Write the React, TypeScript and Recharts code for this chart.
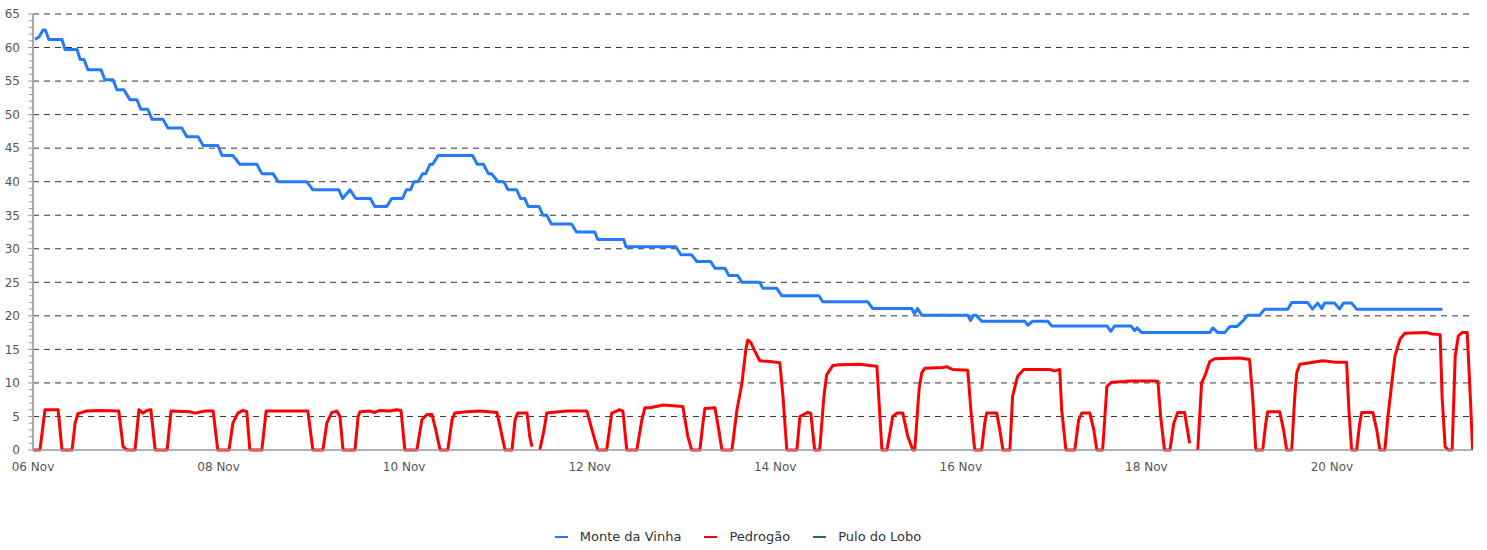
import { LineChart, Line, XAxis, YAxis, CartesianGrid, Legend } from 'recharts';

type Pt = [number, number | null];

// t = horas desde 06 Nov 00:00, v = valor
const monteDaVinha: Pt[] = [
  [0.5, 61.2], [1.6, 61.6], [2.6, 62.6], [3.2, 62.6], [4.1, 61.2], [7.5, 61.2], [8.3, 59.7], [11.4, 59.7],
  [12.2, 58.2], [13.2, 58.2], [14.2, 56.7], [17.6, 56.7], [18.6, 55.2], [20.7, 55.2], [21.7, 53.7], [23.5, 53.7],
  [25.1, 52.2], [26.9, 52.2], [27.9, 50.8], [29.7, 50.8], [30.8, 49.3], [33.6, 49.3], [34.9, 48.0], [38.5, 48.0],
  [39.8, 46.7], [42.7, 46.7], [44.0, 45.4], [47.8, 45.4], [48.9, 43.9], [51.7, 43.9], [53.5, 42.6], [57.9, 42.6],
  [59.2, 41.2], [62.1, 41.2], [63.4, 40.0], [70.8, 40.0], [72.4, 38.8], [79.1, 38.8], [80.1, 37.5], [82.0, 38.8],
  [83.5, 37.5], [87.3, 37.5], [88.4, 36.3], [91.5, 36.3], [92.8, 37.5], [95.6, 37.5], [96.6, 38.8], [97.7, 38.8],
  [98.5, 40.0], [99.6, 40.0], [100.8, 41.2], [101.6, 41.2], [102.7, 42.6], [103.4, 42.6], [104.8, 43.9], [113.7, 43.9],
  [114.9, 42.6], [116.5, 42.6], [117.8, 41.2], [118.6, 41.2], [120.3, 40.0], [121.8, 40.0], [122.9, 38.8], [125.1, 38.8],
  [126.1, 37.5], [127.2, 37.5], [128.1, 36.3], [130.9, 36.3], [131.9, 35.0], [132.9, 35.0], [134.1, 33.7], [139.3, 33.7],
  [140.6, 32.5], [145.3, 32.5], [146.1, 31.4], [152.8, 31.4], [153.4, 30.3], [166.3, 30.3], [167.6, 29.1], [170.4, 29.1],
  [171.7, 28.1], [175.3, 28.1], [176.4, 27.1], [179.0, 27.1], [180.0, 26.0], [182.3, 26.0], [183.4, 25.0], [188.0, 25.0],
  [188.8, 24.1], [192.4, 24.1], [193.7, 23.0], [203.3, 23.0], [204.3, 22.1], [215.9, 22.1], [217.2, 21.1], [227.3, 21.1],
  [228.0, 20.3], [228.8, 21.1], [229.9, 20.1], [241.8, 20.1], [242.5, 19.3], [243.3, 20.1], [244.0, 20.1], [245.4, 19.2],
  [256.6, 19.2], [257.3, 18.6], [258.6, 19.2], [262.5, 19.2], [263.5, 18.5], [277.8, 18.5], [278.8, 17.7], [279.8, 18.5],
  [284.0, 18.5], [285.0, 17.8], [285.6, 18.2], [286.8, 17.5], [304.4, 17.5], [305.2, 18.2], [306.5, 17.5], [308.3, 17.5],
  [309.6, 18.4], [311.4, 18.4], [312.9, 19.2], [314.2, 20.1], [317.3, 20.1], [318.6, 21.0], [324.6, 21.0], [325.6, 22.0],
  [329.7, 22.0], [331.0, 21.0], [332.3, 21.9], [333.4, 21.1], [334.1, 21.9], [336.7, 21.9], [338.0, 21.0], [339.0, 21.9],
  [341.1, 21.9], [342.4, 21.0], [364.6, 21.0],
];

const pedrogao: Pt[] = [
  [0, 0], [1.8, 0], [3.1, 6.0], [6.5, 6.0], [7.5, 0], [10.1, 0], [10.9, 4.0], [11.6, 5.4], [12.7, 5.6], [13.7, 5.8],
  [17.3, 5.9], [22.2, 5.8], [23.3, 0.5], [24.3, 0], [26.4, 0], [27.4, 6.0], [28.4, 5.5], [29.5, 5.9], [30.5, 6.0],
  [31.6, 0], [34.7, 0], [35.7, 5.8], [40.6, 5.7], [41.9, 5.5], [44.5, 5.8], [46.6, 5.8], [47.8, 0], [50.7, 0],
  [51.7, 4.0], [53.0, 5.5], [54.3, 5.9], [55.3, 5.7], [56.1, 0], [59.2, 0], [60.3, 5.8], [71.1, 5.8], [72.4, 0],
  [75.0, 0], [76.0, 4.0], [77.3, 5.6], [78.6, 5.8], [79.4, 5.0], [80.2, 0], [83.3, 0], [84.1, 5.0], [84.6, 5.7],
  [87.2, 5.8], [88.4, 5.6], [89.7, 5.9], [92.3, 5.8], [94.1, 6.0], [95.2, 5.9], [96.2, 0], [99.3, 0], [100.6, 4.5],
  [101.9, 5.3], [103.2, 5.3], [104.2, 3.0], [105.3, 0], [107.3, 0], [108.4, 4.5], [109.1, 5.5], [112.2, 5.7],
  [115.6, 5.8], [120.0, 5.6], [121.0, 3.0], [122.1, 0], [123.9, 0], [124.7, 4.5], [125.4, 5.5], [127.8, 5.5],
  [128.5, 2.0], [129.1, 0.5], [130.0, null], [131.1, 0], [132.2, 3.0], [132.9, 5.5], [138.1, 5.8], [143.3, 5.8],
  [144.6, 3.0], [146.1, 0], [148.4, 0], [149.7, 5.5], [151.8, 6.0], [152.6, 5.8], [153.6, 0], [156.2, 0],
  [157.5, 4.5], [158.3, 6.3], [159.6, 6.3], [163.0, 6.7], [168.1, 6.5], [169.4, 2.0], [170.4, 0], [172.5, 0],
  [173.3, 4.0], [173.8, 6.2], [176.4, 6.3], [177.4, 3.0], [178.2, 0], [180.8, 0], [182.1, 6.0], [183.4, 10.0],
  [184.4, 15.0], [184.9, 16.4], [185.7, 16.0], [186.5, 15.0], [188.0, 13.3], [190.6, 13.2], [193.2, 13.0],
  [194.0, 8.0], [195.0, 0], [197.6, 0], [198.4, 5.0], [200.4, 5.6], [201.2, 5.5], [202.2, 0], [203.5, 0],
  [204.6, 8.0], [205.3, 11.2], [206.9, 12.6], [208.7, 12.7], [213.9, 12.8], [216.5, 12.6], [218.3, 12.5],
  [219.6, 0], [220.9, 0], [222.4, 5.0], [223.5, 5.5], [225.0, 5.5], [226.3, 2.0], [227.6, 0], [228.1, 0],
  [229.2, 9.0], [229.9, 11.5], [230.7, 12.2], [235.3, 12.3], [236.4, 12.4], [237.9, 12.0], [241.8, 11.9],
  [242.6, 6.0], [243.6, 0], [245.4, 0], [246.2, 4.0], [246.7, 5.5], [249.3, 5.5], [250.1, 3.0], [250.9, 0],
  [252.7, 0], [253.4, 8.0], [254.7, 11.0], [256.3, 12.0], [263.0, 12.0], [264.3, 11.8], [265.6, 12.0], [266.1, 6.0],
  [267.2, 0], [269.5, 0], [270.5, 4.5], [271.3, 5.5], [273.4, 5.5], [274.4, 3.0], [275.2, 0], [276.7, 0],
  [277.8, 9.5], [279.0, 10.1], [282.4, 10.2], [283.7, 10.3], [290.2, 10.3], [291.0, 10.2], [291.7, 5.0], [292.7, 0],
  [294.1, 0], [295.1, 4.0], [296.1, 5.6], [297.9, 5.6], [299.2, 1.0], [300.5, null], [301.3, 0], [302.3, 10.0],
  [303.1, 11.0], [304.4, 13.2], [305.7, 13.6], [312.1, 13.7], [314.7, 13.5], [315.5, 8.0], [316.3, 0], [318.1, 0],
  [318.9, 4.0], [319.4, 5.7], [322.5, 5.7], [323.5, 3.0], [324.3, 0], [325.6, 0], [326.4, 8.0], [326.9, 11.5],
  [327.7, 12.8], [330.3, 13.0], [333.6, 13.3], [336.7, 13.1], [339.8, 13.1], [340.4, 6.0], [341.1, 0], [342.4, 0],
  [343.2, 4.0], [343.7, 5.6], [346.6, 5.6], [347.6, 3.0], [348.4, 0], [349.7, 0], [350.5, 5.0], [351.5, 10.0],
  [352.3, 14.0], [353.6, 16.5], [354.9, 17.4], [360.6, 17.5], [361.9, 17.3], [364.0, 17.2], [364.5, 8.0],
  [365.3, 0.5], [366.1, 0], [367.1, 0], [367.9, 14.0], [368.7, 17.0], [369.7, 17.5], [371.0, 17.5], [371.8, 8.0],
  [372.4, 0],
];

const puloDoLobo: Pt[] = [];

const xTicks = [0, 48, 96, 144, 192, 240, 288, 336];
const yTicks = Array.from({ length: 66 }, (_, i) => i);
const yGrid = [5, 10, 15, 20, 25, 30, 35, 40, 45, 50, 55, 60, 65];

const toRows = (pts: Pt[]) => pts.map(([t, v]) => ({ t, v }));

const series = [
  { name: 'Monte da Vinha', color: '#2379ff', data: toRows(monteDaVinha) },
  { name: 'Pedrogão', color: '#ff0000', data: toRows(pedrogao) },
  { name: 'Pulo do Lobo', color: '#1b7a43', data: toRows(puloDoLobo) },
];

const FONT = '"DejaVu Sans", sans-serif';

const fmtDay = (h: number) => `${String(6 + Math.round(h / 24)).padStart(2, '0')} Nov`;

const YTick = (props: any) => {
  const { x, y, payload } = props;
  const v = payload.value;
  const major = v % 5 === 0;
  return (
    <g>
      <line x1={x - (major ? 5 : 4)} x2={x} y1={y} y2={y} stroke="#999" strokeWidth={1} />
      {major && (
        <text x={x - 13} y={y} dy="0.36em" textAnchor="end" fontSize={12} fill="#555" fontFamily={FONT}>
          {v}
        </text>
      )}
    </g>
  );
};

const LegendContent = () => (
  <div style={{ display: 'flex', justifyContent: 'center', gap: 23, paddingTop: 9, paddingLeft: 3, fontFamily: FONT, fontSize: 13, color: '#333' }}>
    {series.map((s) => (
      <div key={s.name} style={{ display: 'flex', alignItems: 'center' }}>
        <span style={{ display: 'inline-block', width: 13, height: 2, background: s.color, marginRight: 12 }} />
        <span>{s.name}</span>
      </div>
    ))}
  </div>
);

export default function App() {
  return (
    <div style={{ position: 'absolute', left: 0, top: 0, background: '#fff' }}>
      <LineChart width={1487} height={550} margin={{ top: 14, right: 14, left: 0, bottom: 0 }} style={{ fontFamily: FONT }}>
        <CartesianGrid vertical={false} horizontalValues={yGrid} stroke="#333" strokeDasharray="6 5" />
        <XAxis
          dataKey="t"
          type="number"
          domain={[0, 372.5]}
          allowDataOverflow
          ticks={xTicks}
          tickFormatter={fmtDay}
          tickLine={false}
          tickSize={0}
          tickMargin={12}
          height={70}
          axisLine={{ stroke: '#999', strokeWidth: 1.5 }}
          tick={{ fontSize: 12, fill: '#555', fontFamily: FONT }}
        />
        <YAxis
          type="number"
          domain={[0, 65]}
          ticks={yTicks}
          interval={0}
          width={33}
          tickLine={false}
          tickSize={0}
          tickMargin={0}
          axisLine={{ stroke: '#aaa', strokeWidth: 2 }}
          tick={<YTick />}
        />
        <Legend verticalAlign="bottom" height={30} content={<LegendContent />} />
        {series.map((s) => (
          <Line
            key={s.name}
            data={s.data}
            dataKey="v"
            name={s.name}
            type="linear"
            stroke={s.color}
            strokeWidth={3}
            strokeLinejoin="round"
            dot={false}
            activeDot={false}
            isAnimationActive={false}
          />
        ))}
      </LineChart>
    </div>
  );
}
